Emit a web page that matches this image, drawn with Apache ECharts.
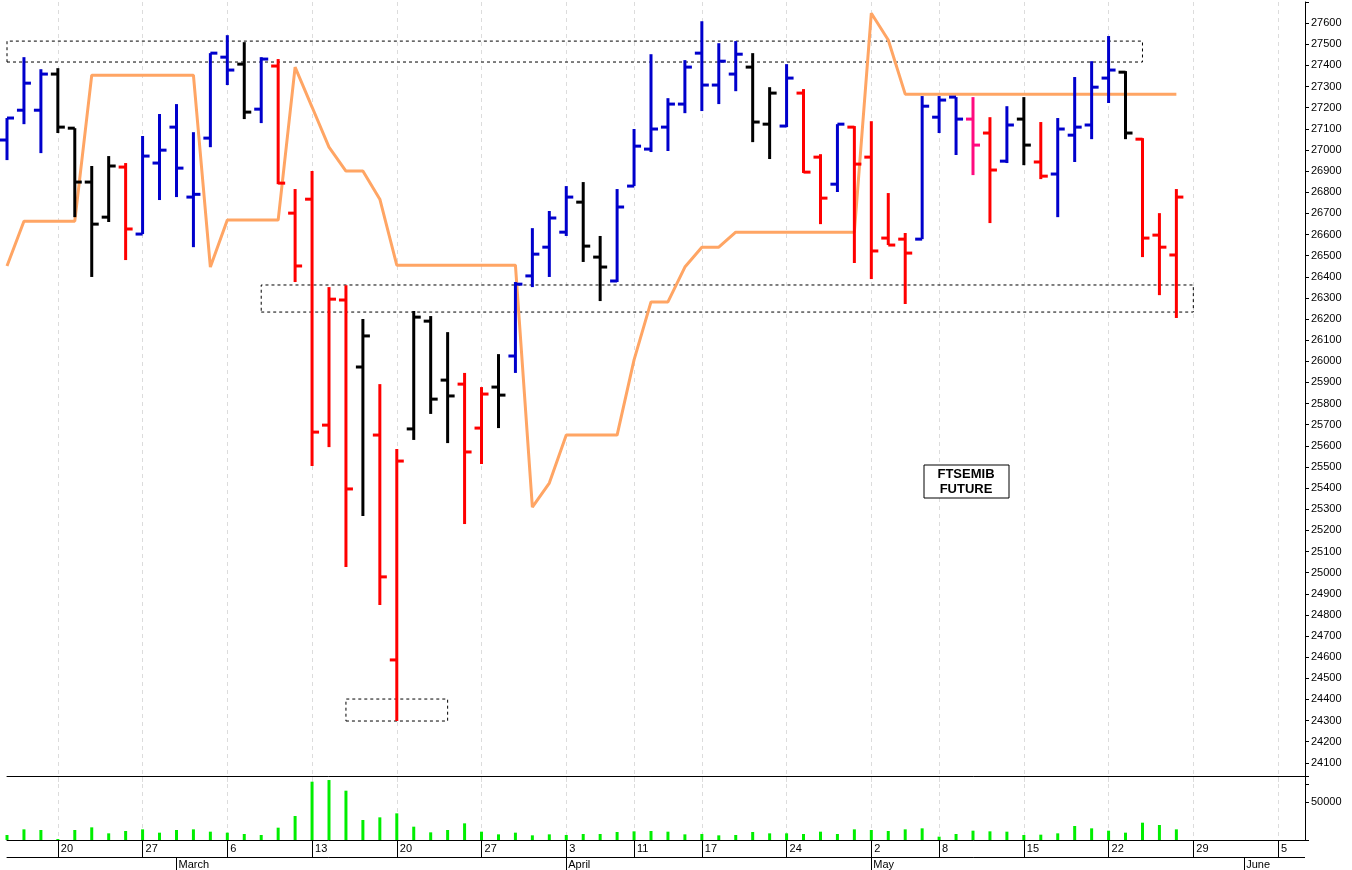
<!DOCTYPE html>
<html lang="en">
<head>
  <meta charset="UTF-8">
  <title>FTSEMIB future</title>
  <style>
    html, body { margin: 0; padding: 0; background: #fff; }
    #chart { width: 1352px; height: 870px; }
  </style>
</head>
<body>
  <div id="chart"></div>
  <script src="https://cdn.jsdelivr.net/npm/echarts@6/dist/echarts.min.js"></script>
  <script>
    // bars 0..69 (15 Feb -> 26 May), empty slots up to 76
    const opens  = [27047,27188,27188,27359,27103,26848,26682,26919,26602,26938,27108,26777,27056,27439,27406,27193,27397,26701,26767,25698,26290,25973,25651,24587,25680,26190,25911,25892,25684,25878,26025,26404,26540,26611,26753,26493,26380,26829,27004,27108,27217,27458,27307,27359,27392,27122,27113,27269,26966,26838,27108,26966,26583,26578,26578,27155,27250,27146,27080,26947,27146,26943,26886,27070,27118,27340,27368,27051,26597,26503];
    const highs  = [27151,27439,27382,27387,27103,26924,26971,26938,27066,27170,27217,27084,27458,27543,27510,27439,27430,26815,26900,26351,26360,26200,25892,25585,26238,26214,26138,25945,25878,26034,26375,26630,26711,26829,26848,26593,26815,27099,27453,27245,27425,27609,27505,27515,27458,27297,27406,27288,26980,27122,27113,27136,26796,26607,27255,27255,27250,27250,27155,27207,27250,27132,27151,27345,27420,27539,27373,27056,26701,26815];
    const lows   = [26952,27122,26985,27080,26682,26399,26659,26479,26602,26763,26777,26540,27013,27307,27146,27127,26838,26375,25505,25594,25027,25268,24847,24298,25628,25751,25613,25230,25514,25684,25945,26351,26399,26593,26470,26285,26375,26829,26990,26995,27174,27184,27217,27278,27037,26957,27108,26891,26649,26801,26465,26389,26550,26271,26578,27080,26976,26881,26654,26938,26928,26862,26682,26943,27051,27222,27051,26493,26313,26205];
    const closes = [27151,27316,27359,27108,26848,26649,26924,26626,26971,26999,26914,26790,27458,27378,27179,27430,26843,26451,25665,26294,25396,26120,24980,25528,26209,25821,25836,25571,25845,25840,26365,26507,26678,26777,26545,26446,26730,27018,27099,27217,27392,27307,27420,27453,27132,27269,27340,26895,26772,27122,26933,26522,26550,26512,27207,27236,27146,27023,26905,27118,27023,26876,27099,27108,27297,27378,27080,26583,26540,26777];
    const barColors = 'BBBKKKKRBBBBBBKBRRRRRKRRKKKRRKBBBBKKBBBBBBBBKKBRRBRRRRBBBPRBKRBBBBKRRR';
    const guideLine = [26451,26663,26663,26663,26663,27354,27354,27354,27354,27354,27354,27354,26446,26668,26668,26668,26668,27392,27203,27013,26900,26900,26767,26455,26455,26455,26455,26455,26455,26455,26455,25310,25424,25651,25651,25651,25651,26007,26281,26281,26446,26540,26540,26611,26611,26611,26611,26611,26611,26611,26611,27647,27520,27264,27264,27264,27264,27264,27264,27264,27264,27264,27264,27264,27264,27264,27264,27264,27264,27264];
    const volumes = [6640,14160,13280,1330,13280,16800,8850,11950,14160,9740,13280,14160,11060,9740,7970,6640,16370,31860,77440,79650,65490,26550,30090,35400,17700,10180,13280,22130,11060,7520,9740,6200,7520,6640,7970,7970,10620,11500,11950,11060,7520,7970,6200,6640,10620,8850,8850,7970,11060,7970,14160,13280,11950,14160,15490,4430,7970,12390,11500,11060,6640,7080,8850,18590,15490,12390,9740,23010,19910,14160];
    const dayTicks = {3:'20', 8:'27', 13:'6', 18:'13', 23:'20', 28:'27', 33:'3', 37:'11', 41:'17', 46:'24', 51:'2', 55:'8', 60:'15', 65:'22', 70:'29', 75:'5'};
    const monthTicks = {10:'March', 33:'April', 51:'May', 73:'June'};
    const nSlots = 77;

    const colorMap = { B: '#0000cc', R: '#ff0000', K: '#000000', P: '#ff0a7f' };
    const cats = [];
    for (let i = 0; i < nSlots; i++) cats.push(String(i));
    const ohlc = opens.map((o, i) => [i, o, highs[i], lows[i], closes[i]]);

    const chart = echarts.init(document.getElementById('chart'));
    const dash = { type: [4, 4], color: '#dcdcdc', width: 1 };

    chart.setOption({
      animation: false,
      grid: [
        { left: 7, right: 57, top: 2, height: 782 },
        { left: 7, right: 57, top: 776, height: 64 }
      ],
      xAxis: [
        { gridIndex: 0, type: 'category', data: cats, boundaryGap: false,
          axisLine: { show: false }, axisTick: { show: false }, axisLabel: { show: false },
          splitLine: { show: true, interval: i => !!dayTicks[i], lineStyle: dash } },
        { gridIndex: 1, type: 'category', data: cats, boundaryGap: false, position: 'bottom',
          axisLine: { lineStyle: { color: '#000' } },
          axisTick: { length: 17, interval: i => !!dayTicks[i], lineStyle: { color: '#000' } },
          axisLabel: { interval: i => !!dayTicks[i], formatter: (v, i) => dayTicks[i] || '',
            align: 'left', padding: [0, 0, 0, 3], margin: 3, fontSize: 11, fontFamily: 'Arial', color: '#000' },
          splitLine: { show: true, interval: i => !!dayTicks[i], lineStyle: dash } },
        { gridIndex: 1, type: 'category', data: cats, boundaryGap: false, position: 'bottom', offset: 17,
          axisLine: { lineStyle: { color: '#000' } },
          axisTick: { length: 13, interval: i => !!monthTicks[i], lineStyle: { color: '#000' } },
          axisLabel: { interval: i => !!monthTicks[i], formatter: (v, i) => monthTicks[i] || '',
            align: 'left', padding: [0, 0, 0, 2], margin: 2, fontSize: 11, fontFamily: 'Arial', color: '#000' } },
        { gridIndex: 1, type: 'category', data: cats, boundaryGap: false, position: 'top',
          axisLine: { lineStyle: { color: '#000', width: 1 } }, axisTick: { show: false }, axisLabel: { show: false } }
      ],
      yAxis: [
        { gridIndex: 0, type: 'value', position: 'right', offset: 10, min: 24000, max: 27700, interval: 100,
          axisLine: { show: true, lineStyle: { color: '#000' } },
          axisTick: { show: true, length: 4, lineStyle: { color: '#000' } },
          axisLabel: { fontSize: 11, fontFamily: 'Arial', color: '#000', margin: 6,
            formatter: v => (v < 24100 || v > 27600) ? '' : String(v) },
          splitLine: { show: false } },
        { gridIndex: 1, type: 'value', position: 'right', offset: 10, min: 0, max: 85000, interval: 50000,
          axisLine: { show: true, lineStyle: { color: '#000' } },
          axisTick: { show: true, length: 4, lineStyle: { color: '#000' } },
          axisLabel: { fontSize: 11, fontFamily: 'Arial', color: '#000', margin: 6,
            formatter: v => v === 50000 ? '50000' : '' },
          splitLine: { show: false } }
      ],
      graphic: [
        // extend the panel separators to the price axis
        { type: 'line', z: 50, shape: { x1: 1295, y1: 776.5, x2: 1305, y2: 776.5 }, style: { stroke: '#000' } },
        { type: 'line', z: 50, shape: { x1: 1295, y1: 840.5, x2: 1305, y2: 840.5 }, style: { stroke: '#000' } },
        { type: 'line', z: 50, shape: { x1: 1295, y1: 857.5, x2: 1305, y2: 857.5 }, style: { stroke: '#000' } },
        { type: 'rect', z: 100, shape: { x: 924, y: 465, width: 85, height: 33 },
          style: { fill: '#fff', stroke: '#000', lineWidth: 1 } },
        { type: 'text', z: 101, x: 966, y: 482,
          style: { text: 'FTSEMIB\nFUTURE', fill: '#000', font: 'bold 13px Arial', align: 'center', verticalAlign: 'middle', lineHeight: 15 } }
      ],
      series: [
        {
          type: 'line', xAxisIndex: 0, yAxisIndex: 0, data: guideLine, symbol: 'none', z: 2,
          lineStyle: { color: '#ffa564', width: 3 },
          markArea: {
            silent: true,
            itemStyle: { color: 'rgba(0,0,0,0)', borderColor: '#000', borderWidth: 1, borderType: [3, 3] },
            data: [
              [{ xAxis: 0, yAxis: 27416 }, { xAxis: 66.5, yAxis: 27515 }],
              [{ xAxis: 15, yAxis: 26233 }, { xAxis: 70.4, yAxis: 26361 }],
              [{ xAxis: 20, yAxis: 24298 }, { xAxis: 25.8, yAxis: 24402 }]
            ]
          }
        },
        {
          type: 'custom', xAxisIndex: 0, yAxisIndex: 0, data: ohlc, z: 3,
          renderItem: (params, api) => {
            const i = api.value(0);
            const o = api.coord([i, api.value(1)]);
            const h = api.coord([i, api.value(2)]);
            const l = api.coord([i, api.value(3)]);
            const c = api.coord([i, api.value(4)]);
            const st = { stroke: colorMap[barColors[params.dataIndex]], lineWidth: 3 };
            return { type: 'group', children: [
              { type: 'line', shape: { x1: h[0], y1: h[1], x2: l[0], y2: l[1] }, style: st },
              { type: 'line', shape: { x1: o[0] - 7, y1: o[1], x2: o[0], y2: o[1] }, style: st },
              { type: 'line', shape: { x1: c[0], y1: c[1], x2: c[0] + 7, y2: c[1] }, style: st }
            ] };
          }
        },
        {
          type: 'bar', xAxisIndex: 1, yAxisIndex: 1, data: volumes, barWidth: 3,
          itemStyle: { color: '#00ee00' }
        }
      ]
    });
  </script>
</body>
</html>
